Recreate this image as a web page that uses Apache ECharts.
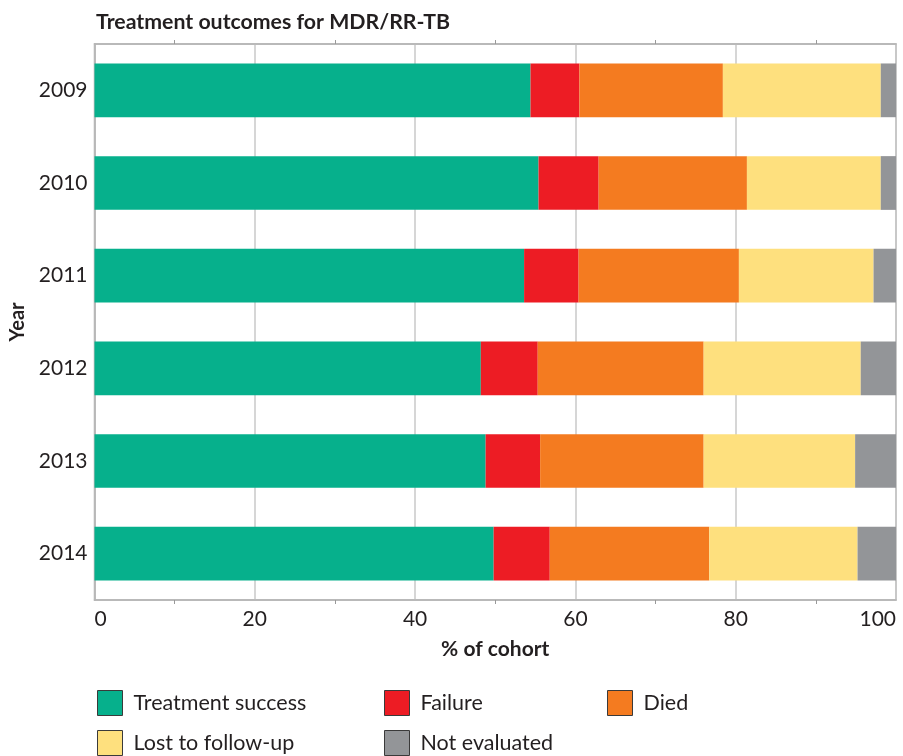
<!DOCTYPE html>
<html>
<head>
<meta charset="utf-8">
<script src="https://cdn.jsdelivr.net/npm/echarts@6/dist/echarts.min.js"></script>
<style>html,body{margin:0;padding:0;background:#fff}#c{width:903px;height:756px}</style>
</head>
<body>
<div id="c"></div>
<script>
const years = ['2009', '2010', '2011', '2012', '2013', '2014'];
const success = [54.4, 55.4, 53.6, 48.2, 48.8, 49.8];
const failure = [6.1, 7.5, 6.8, 7.1, 6.8, 7.0];
const died = [17.9, 18.5, 20.0, 20.7, 20.4, 19.9];
const lost = [19.7, 16.7, 16.8, 19.6, 18.9, 18.5];
const notEvaluated = [1.9, 1.9, 2.8, 4.4, 5.1, 4.8];
const xTicks = [0, 20, 40, 60, 80, 100];

const names = ['Treatment success', 'Failure', 'Died', 'Lost to follow-up', 'Not evaluated'];
const colors = ['#06b08c', '#ed1c24', '#f47b20', '#fee07e', '#939598'];
const values = [success, failure, died, lost, notEvaluated];

const font = 'Lato, "Noto Sans", sans-serif';
const chart = echarts.init(document.getElementById('c'));

const legendPos = [[97, 690], [384, 690], [607, 690], [97, 730], [384, 730]];
const legends = names.map((n, i) => ({
  orient: 'horizontal', left: legendPos[i][0], top: legendPos[i][1], padding: 0,
  itemWidth: 25, itemHeight: 25, icon: 'rect',
  itemStyle: { borderColor: '#3a3a3a', borderWidth: 1 },
  textStyle: { fontFamily: font, fontSize: 21.5, color: '#231f20', padding: [0, 0, 0, 6] },
  selectedMode: false,
  data: [n]
}));

chart.setOption({
  animation: false,
  textStyle: { fontFamily: font },
  title: {
    text: 'Treatment outcomes for MDR/RR-TB', left: 91, top: 7,
    textStyle: { fontFamily: font, fontSize: 21.3, fontWeight: 'bold', color: '#231f20' }
  },
  legend: legends,
  grid: {
    left: 94.5, right: 7, top: 44, bottom: 156, outerBoundsMode: 'none',
    show: true, borderColor: '#b5b5b5', borderWidth: 1.5, backgroundColor: 'transparent'
  },
  xAxis: [{
    type: 'value', min: 0, max: 100, interval: 20, position: 'bottom',
    name: '% of cohort', nameLocation: 'middle', nameGap: 39,
    nameTextStyle: { fontFamily: font, fontSize: 21, fontWeight: 'bold', color: '#231f20' },
    axisLine: { show: true, lineStyle: { color: '#b5b5b5', width: 1.5 } },
    axisTick: { show: false },
    minorTick: { show: true, splitNumber: 2, length: 4, lineStyle: { color: '#999' } },
    axisLabel: {
      fontFamily: font, fontSize: 21, color: '#231f20', margin: 9,
      alignMinLabel: 'left', alignMaxLabel: 'right',
      formatter: v => xTicks.includes(v) ? String(v) : ''
    },
    splitLine: { show: true, lineStyle: { color: '#c8c8c8', width: 1.5 } }
  }, {
    type: 'value', min: 0, max: 100, interval: 20, position: 'top',
    axisLine: { show: true, lineStyle: { color: '#b5b5b5', width: 1.5 } },
    axisTick: { show: false },
    minorTick: { show: true, splitNumber: 2, length: 4, lineStyle: { color: '#999' } },
    axisLabel: { show: false },
    splitLine: { show: false }
  }],
  yAxis: {
    type: 'category', data: years, inverse: true,
    name: 'Year', nameLocation: 'middle', nameGap: 66, nameRotate: 90,
    nameTextStyle: { fontFamily: font, fontSize: 20, fontWeight: 'bold', color: '#231f20' },
    axisLine: { show: true, lineStyle: { color: '#b5b5b5', width: 1.5 } },
    axisTick: { show: false },
    axisLabel: { fontFamily: font, fontSize: 21, color: '#231f20', margin: 7 }
  },
  series: names.map((n, i) => ({
    name: n, type: 'bar', stack: 'total', xAxisIndex: 0,
    barWidth: '58%',
    itemStyle: { color: colors[i] },
    emphasis: { disabled: true },
    data: values[i]
  }))
});
</script>
</body>
</html>
